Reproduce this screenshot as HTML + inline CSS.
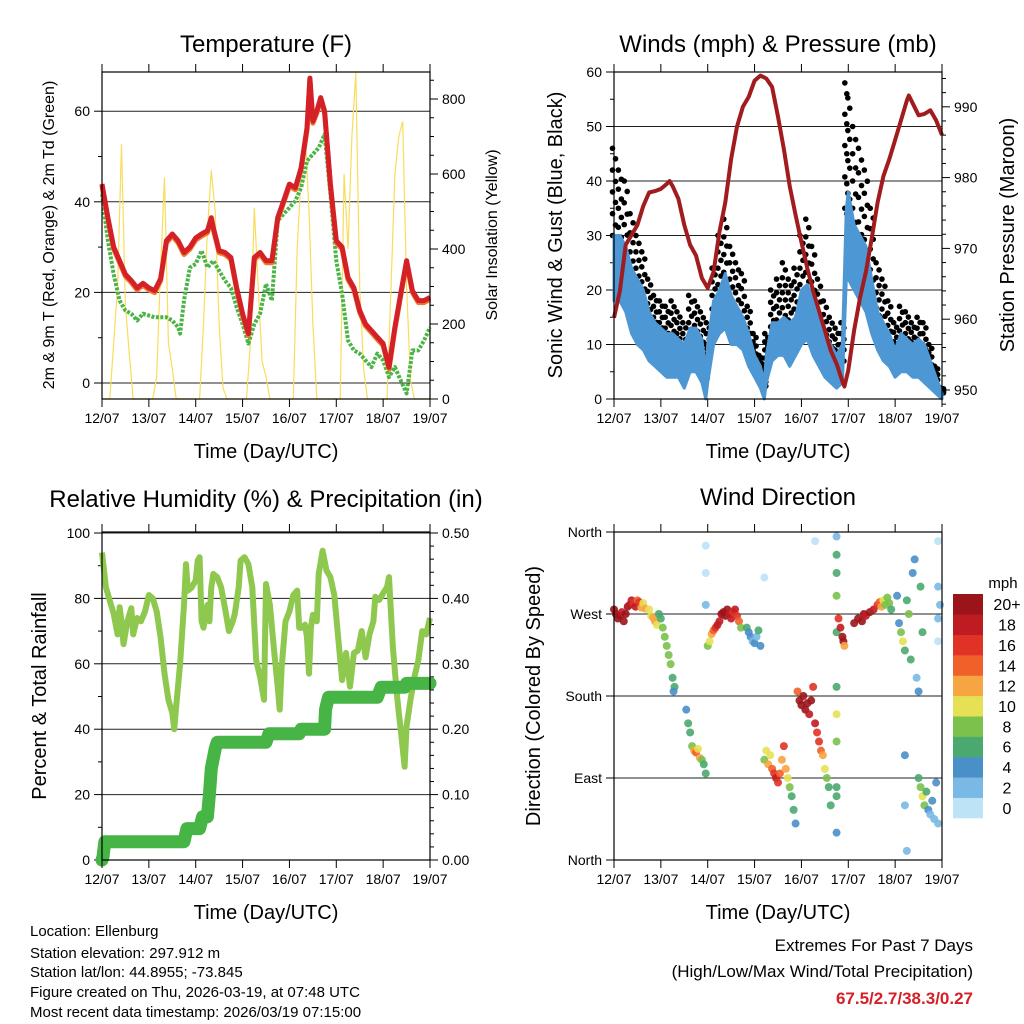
<!DOCTYPE html>
<html><head><meta charset="utf-8">
<style>
html,body{margin:0;padding:0;background:#fff;}
svg{display:block;font-family:"Liberation Sans",Arial,sans-serif;}
</style></head>
<body>
<svg id="chart" width="1024" height="1024" viewBox="0 0 1024 1024" xmlns="http://www.w3.org/2000/svg"></svg>
<script>
// ---------- DATA ----------
const dayLabels = ["12/07","13/07","14/07","15/07","16/07","17/07","18/07","19/07"];
const tempHours = [0,3,6,9,12,15,18,21,24,27,30,33,36,39,42,45,48,51,54,56,57,60,63,66,69,72,75,78,81,84,87,90,93,96,99,102,105,106.5,108,110,112,114,117,120,123,126,129,132,135,138,141,144,147,150,153,156,159,162,165,168];
const temp2m = [43.9,36.5,30,27,24,22.6,21,22,21,20.4,23,31.4,32.9,31.4,28.8,30,32,32.9,33.6,36.5,34.3,29.2,28.8,27.7,21,15.3,10.9,27.7,28.8,27,27,36.5,40.2,43.9,43.1,47.5,56.3,67.3,57.8,60,63,60,43.9,31.4,30,23.3,21,16,13,11.6,10.1,8.7,3.5,12.3,19.7,27,20.4,18.2,18.2,18.9];
const dewHours = [0,3,6,9,12,15,18,21,24,27,30,33,36,39,40,42,45,48,51,54,57,60,63,66,69,72,75,78,81,84,87,90,93,96,99,102,105,108,111,114,117,120,123,126,129,132,135,138,141,144,147,150,153,156,159,162,165,168];
const dew2m = [41.7,31.4,24,18.2,16,15.3,13.8,15.3,14.9,14.5,14.5,14.5,13.8,12.3,10.9,18.2,25.5,26.3,29.2,25.5,27,24.8,22.6,21,16.7,13,8.7,13,15.3,21.9,18.2,35.8,37.3,38.7,40.2,43.1,49,50.5,51.9,54.9,41.7,27,19.7,9.4,7.2,6.5,5,3.5,6.5,5,1.3,3.5,0.6,-2.3,7.2,7.2,9.4,12.3];
const solarHours = [0,2,4,6,8,10,12,14,16,24,26,28,30,32,34,36,38,48,50,52,54,56,58,60,62,64,72,74,76,78,80,82,84,86,96,98,100,102,104,106,108,110,120,122,124,126,128,130,132,134,136,144,146,148,150,152,154,156,158,160,168];
const solarWm2 = [0,0,0,150,300,680,250,120,0,0,0,60,350,590,150,80,0,0,0,200,450,610,500,200,30,0,0,0,150,510,300,100,60,0,0,0,400,600,720,500,200,0,0,0,600,400,700,870,300,80,0,0,0,300,600,700,740,300,50,0,0];
const windHours = [0,3,6,9,12,15,18,21,24,27,30,33,36,39,42,45,47,48,51,54,57,60,63,66,69,72,75,77,78,81,84,87,90,93,96,99,102,105,108,111,114,117,119,120,123,126,129,132,135,138,141,144,147,150,153,156,159,162,165,168];
const windHi = [30,30,28,24,22,20,16,14,13,12,12,11,10,13,13,11,5,10,18,20,23,19,17,15,12,8,6,3,8,14,14,15,14,15,20,21,18,15,12,10,8,10,35,38,32,30,28,22,16,14,12,9,12,11,10,11,10,7,4,1];
const windLo = [18,18,16,12,10,9,7,6,5,4,4,4,2,5,5,3,0,3,10,12,13,10,10,9,6,4,2,0,3,7,8,8,6,8,10,11,8,6,4,3,2,3,22,22,20,18,16,12,9,7,6,4,5,5,4,4,3,2,1,0];
const gustHi = [46,42,40,34,30,27,22,19,18,17,18,16,14,19,18,16,10,14,24,30,33,28,25,23,17,12,8,5,12,20,22,25,22,24,30,33,28,22,18,15,13,14,58,56,50,46,42,35,25,22,18,14,17,16,14,15,14,10,6,2];
const gustLo = [30,28,24,20,18,16,13,11,10,9,9,8,6,9,9,7,3,6,14,18,20,16,14,12,9,6,4,2,6,11,12,14,12,14,18,20,15,11,8,6,5,6,35,34,30,28,25,20,14,11,9,7,8,8,7,7,6,4,2,1];
const presHours = [0,3,6,9,12,15,18,21,24,27,28.5,30,33,36,39,42,45,48,51,54,57,60,63,66,69,72,75,78,81,84,87,90,93,96,99,102,105,108,111,114,117,118,120,123,126,129,132,135,138,141,144,147,150,151,153,156,159,162,165,168];
const presMb = [960.2,964,970.5,971.9,973.3,976,977.9,978.1,978.4,979.1,979.5,978.8,977,973.3,970.5,969,965.8,964.4,966.7,972.3,976.5,982.6,987.2,990,991.4,993.7,994.4,994,992.8,988.6,984,978.8,974.7,970.9,967.2,964,961.2,958.4,955.6,953.7,951.2,950.5,952.8,958.4,963,966.7,971.4,976.5,980.2,982.6,985.3,988.1,990.9,991.6,990.5,988.8,989,989.5,988.1,986];
const rhHours = [0,2,4,6,8,9,10,11,13,15,16,18,20,22,24,26,28,30,32,34,36,37,38,40,42,43,44,46,48,49,50,51,52,54,55,56,57,59,61,63,65,67,68,70,71,73,75,77,79,81,83,84,86,88,90,91,92,94,96,98,100,101,103,104,105,106,107,108,110,111,113,115,117,119,121,123,125,127,129,131,133,135,137,139,140,142,144,146,147,149,151,152,153,155,156,158,160,162,164,166,168];
const rhPct = [94,83.4,79.3,75.3,69,77.3,73,66,73,77,69,74,73,76,81,80,76,68,57,49,45,40,47,60,78,90.5,82.4,83.4,85.5,91.6,92.6,73,71,78,73,83.4,87.5,86.5,83.4,77,70,73,75.3,83.4,91.6,92.6,90.5,83.4,61,56,49,84.4,78,65,53,46,58.6,73,76,81,82.4,71,71,72,68,57,71,75,73,87.5,94.6,88.5,86.5,81,68,55,63.3,53,63.3,64,70,62,69,73,80.5,79.5,81.6,83.4,86.5,65,51,45,40,28.5,41,49,56,61,70,69,74];
const precipHours = [0,0.5,1.5,42,43.5,50,51.5,54,55,56,58,59,84,85.5,101,102,114,114.5,116,141,143,155,156,168];
const precipIn = [0,0.005,0.028,0.028,0.048,0.048,0.066,0.066,0.1,0.14,0.17,0.18,0.18,0.193,0.193,0.2,0.2,0.23,0.249,0.249,0.264,0.264,0.27,0.27];
const dirHours = [0,1,2,3,4,5,6,7,8,9,10,11,12,13,14,15,16,18,19,20,21,22,23,24,25,26,27,28,29,30,31,30.5,
 37,38,39,40,41,42,43,44,45,46,47,
 48,49,50,51,52,53,54,55,56,57,58,59,60,61,62,63,64,65,
 68,69,70,71,72,73,74,75,47,47,47,77,
 77,78,79,80,81,82,83,84,85,86,87,88,89,90,91,92,93,
 94,95,96,97,98,99,100,101,102,103,104,105,106,107,108,109,110,111,
 114,114,114,114,114,114,114,114,114,114,114,115,116,117,117.5,118,103,
 123,125,127,128,129,131,133,135,136,137,138,139,140,141,142,
 145,146,147,148,149,150,151,152,153,154,155,156,157,158,
 156,157,158,159,160,161,162,163,164,165,166,149,149,150,
 166,166,166,166,167];
const dirDeg = [275,270,265,268,272,262,270,278,280,285,282,278,285,283,277,282,276,275,268,266,262,258,270,265,255,245,235,225,215,200,190,185,
 165,150,140,125,120,118,122,112,110,105,95,
 235,240,248,252,255,258,262,270,272,268,275,270,265,272,275,268,262,255,
 255,250,245,240,238,245,252,235,345,315,280,310,
 110,120,105,115,100,95,90,85,95,110,125,100,90,80,70,55,40,
 185,175,170,180,165,172,160,175,190,150,140,130,120,115,100,90,80,60,
 355,335,315,290,250,190,160,130,70,30,80,265,255,245,240,235,350,
 260,265,262,270,268,272,275,280,283,278,285,280,288,282,275,
 290,260,250,240,230,285,270,220,315,330,200,185,300,250,
 90,80,70,60,75,55,50,65,45,85,40,115,60,10,
 350,300,265,240,280];
const dirSpeed = [20,20,21,20,19,21,20,20,18,19,17,18,14,16,12,11,13,11,10,12,12,11,7,6,9,8,9,8,8,6,7,4,
 5,7,6,9,12,14,10,12,8,7,6,
 9,10,12,15,17,18,19,20,21,20,20,18,19,16,18,16,14,8,
 6,4,5,3,4,3,7,4,1,1,2,1,
 8,10,12,11,14,16,18,17,15,13,16,12,10,8,7,6,4,
 14,20,21,20,21,20,19,21,17,18,17,16,14,13,10,8,6,6,
 3,6,7,8,6,7,10,9,6,4,7,16,18,20,20,13,1,
 20,20,21,20,19,20,18,16,14,12,10,9,8,9,6,
 5,4,8,10,6,6,9,7,4,5,3,4,6,7,
 7,9,11,8,6,5,3,4,3,4,2,4,2,2,
 1,2,3,1,2];
const speedLabels = ["0","2","4","6","8","10","12","14","16","18","20+"];
const speedColors = ["#bde3f6","#7ab9e4","#4a8fc8","#4aa96e","#7bc14b","#e6e154","#f7a442","#f06029","#e03226","#bf1b22","#9b1419"];

// ---------- HELPERS ----------
const NS = "http://www.w3.org/2000/svg";
const svg = document.getElementById("chart");
function mk(tag, attrs, parent) {
  const e = document.createElementNS(NS, tag);
  for (const k in attrs) e.setAttribute(k, attrs[k]);
  (parent || svg).appendChild(e);
  return e;
}
function txt(str, x, y, size, anchor, parent, extra) {
  const t = mk("text", Object.assign({x: x, y: y, "font-size": size, "text-anchor": anchor || "middle", fill: "#000"}, extra || {}), parent);
  t.textContent = str;
  return t;
}
function group(name) {
  const g = mk("g", {});
  
  
  return g;
}
function line(x1, y1, x2, y2, stroke, w, parent) {
  return mk("line", {x1: x1, y1: y1, x2: x2, y2: y2, stroke: stroke, "stroke-width": w}, parent);
}
function pts(xs, ys, fx, fy) {
  return xs.map((h, i) => fx(h).toFixed(1) + "," + fy(ys[i]).toFixed(1)).join(" ");
}
function makeX(left, right) { return h => left + h / 168 * (right - left); }
function frame(g, L, R, T, B) {
  mk("rect", {x: L, y: T, width: R - L, height: B - T, fill: "none", stroke: "#000", "stroke-width": 1.2}, g);
}
function dayAxis(g, L, R, T, B, fx) {
  for (let d = 0; d < dayLabels.length; d++) {
    const x = fx(d * 24);
    line(x, T - 8, x, T, "#000", 1, g);
    line(x, B, x, B + 8, "#000", 1, g);
    const t = txt(dayLabels[d], x, B + 24, 14, "middle", g);
    
    
  }
  const at = txt("Time (Day/UTC)", (L + R) / 2, B + 59, 20, "middle", g);
  
  
}
function yTicks(g, x, side, vals, fy, labels, minorVals, gridL, gridR) {
  const dir = side === "left" ? -1 : 1;
  vals.forEach((v, i) => {
    const y = fy(v);
    line(x, y, x + dir * 8, y, "#000", 1, g);
    if (gridL !== undefined) line(gridL, y, gridR, y, "#222", 1, g);
    if (labels) {
      const t = txt(labels[i], x + dir * 12, y + 5, 14, side === "left" ? "end" : "start", g);
      
      
    }
  });
  (minorVals || []).forEach(v => { const y = fy(v); line(x, y, x + dir * 4, y, "#000", 1, g); });
}
function vtitle(g, str, x, y, size, name) {
  const t = txt(str, x, y, size, "middle", g, {transform: "rotate(-90 " + x + " " + y + ")"});
  
  
}
function title(g, str, x, y, name) {
  const t = txt(str, x, y, 24, "middle", g);
  
  
}

// ---------- PANEL 1: TEMPERATURE ----------
(function () {
  const L = 102, R = 430, T = 72, B = 399;
  const g = group("temperature-panel");
  const fx = makeX(L, R);
  const fyT = v => 383 - v * 4.53;
  const fyS = v => 399 - v * 0.375;
  title(g, "Temperature (F)", 266, 52, "temperature-title");
  yTicks(g, L, "left", [0, 20, 40, 60], fyT, ["0", "20", "40", "60"], [10, 30, 50], L, R);
  yTicks(g, R, "right", [0, 200, 400, 600, 800], fyS, ["0", "200", "400", "600", "800"], [50, 100, 150, 250, 300, 350, 450, 500, 550, 650, 700, 750, 850]);
  const sol = mk("polyline", {points: pts(solarHours, solarWm2, fx, fyS), fill: "none", stroke: "#f9dc5c", "stroke-width": 1.2}, g);
  
  
  const dw = mk("polyline", {points: pts(dewHours, dew2m, fx, fyT), fill: "none", stroke: "#4bb447", "stroke-width": 4, "stroke-dasharray": "3 1.5", "stroke-linejoin": "round"}, g);
  
  
  const or = mk("polyline", {points: pts(tempHours, temp2m, fx, v => fyT(v) + 2), fill: "none", stroke: "#f07a2b", "stroke-width": 5, "stroke-linejoin": "round"}, g);
  
  
  const rd = mk("polyline", {points: pts(tempHours, temp2m, fx, fyT), fill: "none", stroke: "#d42027", "stroke-width": 5, "stroke-linejoin": "round"}, g);
  
  
  frame(g, L, R, T, B);
  dayAxis(g, L, R, T, B, fx);
  vtitle(g, "2m & 9m T (Red, Orange) & 2m Td (Green)", 54, 235, 16, "left-y-axis-title");
  vtitle(g, "Solar Insolation (Yellow)", 497, 235, 16, "right-y-axis-title");
})();

// ---------- PANEL 2: WINDS & PRESSURE ----------
(function () {
  const L = 614, R = 942, T = 72, B = 399;
  const g = group("winds-pressure-panel");
  const fx = makeX(L, R);
  const fyW = v => 399 - v * 5.45;
  const fyP = p => 390 - (p - 950) * 7.08;
  title(g, "Winds (mph) & Pressure (mb)", 778, 52, "winds-title");
  yTicks(g, L, "left", [0, 10, 20, 30, 40, 50, 60], fyW, ["0", "10", "20", "30", "40", "50", "60"], [5, 15, 25, 35, 45, 55], L, R);
  yTicks(g, R, "right", [950, 960, 970, 980, 990], fyP, ["950", "960", "970", "980", "990"], [948, 952, 954, 956, 958, 962, 964, 966, 968, 972, 974, 976, 978, 982, 984, 986, 988, 992, 994]);
  const fracs = [0, 0.12, 0.25, 0.38, 0.5, 0.62, 0.75, 0.88, 1];
  windHours.forEach((h, i) => {
    fracs.forEach((f, k) => {
      const c = mk("circle", {cx: fx(h) + (k % 2 ? 1.5 : -1.5), cy: fyW(gustLo[i] + f * (gustHi[i] - gustLo[i])), r: 2.8, fill: "#000"}, g);
      
      
    });
  });
  const wb = windHours.map((h, i) => fx(h).toFixed(1) + "," + fyW(windHi[i]).toFixed(1)).concat(
    windHours.slice().reverse().map((h, j) => { const i = windHours.length - 1 - j; return fx(h).toFixed(1) + "," + fyW(windLo[i]).toFixed(1); })).join(" ");
  const wp = mk("polygon", {points: wb, fill: "#4d97d4", stroke: "#4d97d4", "stroke-width": 3, "stroke-linejoin": "round"}, g);
  
  
  const pl = mk("polyline", {points: pts(presHours, presMb, fx, fyP), fill: "none", stroke: "#a01c1f", "stroke-width": 4, "stroke-linejoin": "round"}, g);
  
  
  frame(g, L, R, T, B);
  dayAxis(g, L, R, T, B, fx);
  vtitle(g, "Sonic Wind & Gust (Blue, Black)", 562, 235, 20, "left-y-axis-title");
  vtitle(g, "Station Pressure (Maroon)", 1014, 235, 20, "right-y-axis-title");
})();

// ---------- PANEL 3: RH & PRECIP ----------
(function () {
  const L = 102, R = 430, T = 532, B = 860;
  const g = group("humidity-precip-panel");
  const fx = makeX(L, R);
  const fyH = v => 860 - v * 3.27;
  const fyR = v => 860 - v * 654;
  title(g, "Relative Humidity (%) & Precipitation (in)", 266, 507, "humidity-title");
  yTicks(g, L, "left", [0, 20, 40, 60, 80, 100], fyH, ["0", "20", "40", "60", "80", "100"], [10, 30, 50, 70, 90], L, R);
  const rmin = [];
  for (let k = 1; k < 25; k++) if (k % 5) rmin.push(k * 0.02);
  yTicks(g, R, "right", [0, 0.1, 0.2, 0.3, 0.4, 0.5], fyR, ["0.00", "0.10", "0.20", "0.30", "0.40", "0.50"], rmin);
  const rh = mk("polyline", {points: pts(rhHours, rhPct, fx, fyH), fill: "none", stroke: "#8fc84f", "stroke-width": 6, "stroke-linejoin": "round"}, g);
  
  
  const pr = mk("polyline", {points: pts(precipHours, precipIn, fx, fyR), fill: "none", stroke: "#47b446", "stroke-width": 13, "stroke-linejoin": "round", "stroke-linecap": "round"}, g);
  
  
  frame(g, L, R, T, B);
  dayAxis(g, L, R, T, B, fx);
  vtitle(g, "Percent & Total Rainfall", 46, 696, 20, "left-y-axis-title");
})();

// ---------- PANEL 4: WIND DIRECTION ----------
(function () {
  const L = 614, R = 942, T = 532, B = 860;
  const g = group("wind-direction-panel");
  const fx = makeX(L, R);
  const fyD = d => 860 - d / 360 * 328;
  title(g, "Wind Direction", 778, 505, "wind-direction-title");
  yTicks(g, L, "left", [0, 90, 180, 270, 360], fyD, ["North", "East", "South", "West", "North"], [], L, R);
  dirHours.forEach((h, i) => {
    const s = dirSpeed[i];
    const bin = Math.min(10, Math.floor(s / 2));
    const c = mk("circle", {cx: fx(h), cy: fyD(dirDeg[i]), r: 4, fill: speedColors[bin], "fill-opacity": 0.9}, g);
    
    
  });
  frame(g, L, R, T, B);
  dayAxis(g, L, R, T, B, fx);
  vtitle(g, "Direction (Colored By Speed)", 540, 696, 20, "left-y-axis-title");
  const cb = group("speed-colorbar");
  const bh = (818 - 594) / speedColors.length;
  speedColors.forEach((col, i) => {
    const y = 818 - (i + 1) * bh;
    const r = mk("rect", {x: 953, y: y, width: 30, height: bh + 0.3, fill: col}, cb);
    
    
    const t = txt(speedLabels[i], 1007, y + bh / 2 + 6, 16, "middle", cb);
    
    
  });
  const u = txt("mph", 1003, 588, 15, "middle", cb);
  
  
})();

// ---------- FOOTER ----------
(function () {
  const g = group("station-info");
  const lines = ["Location: Ellenburg", "Station elevation: 297.912 m", "Station lat/lon: 44.8955; -73.845", "Figure created on Thu, 2026-03-19, at 07:48 UTC", "Most recent data timestamp: 2026/03/19 07:15:00"];
  const ys = [936, 958, 977, 997, 1017];
  lines.forEach((s, i) => {
    const t = txt(s, 30, ys[i], 15, "start", g);
    
    
  });
  const e = group("extremes-summary");
  const a = txt("Extremes For Past 7 Days", 973, 951, 17, "end", e);
  
  
  const b = txt("(High/Low/Max Wind/Total Precipitation)", 973, 977, 17, "end", e);
  
  
  const c = txt("67.5/2.7/38.3/0.27", 973, 1004, 17, "end", e, {fill: "#d42027", "font-weight": "bold"});
  
  
})();
</script>
</body></html>
